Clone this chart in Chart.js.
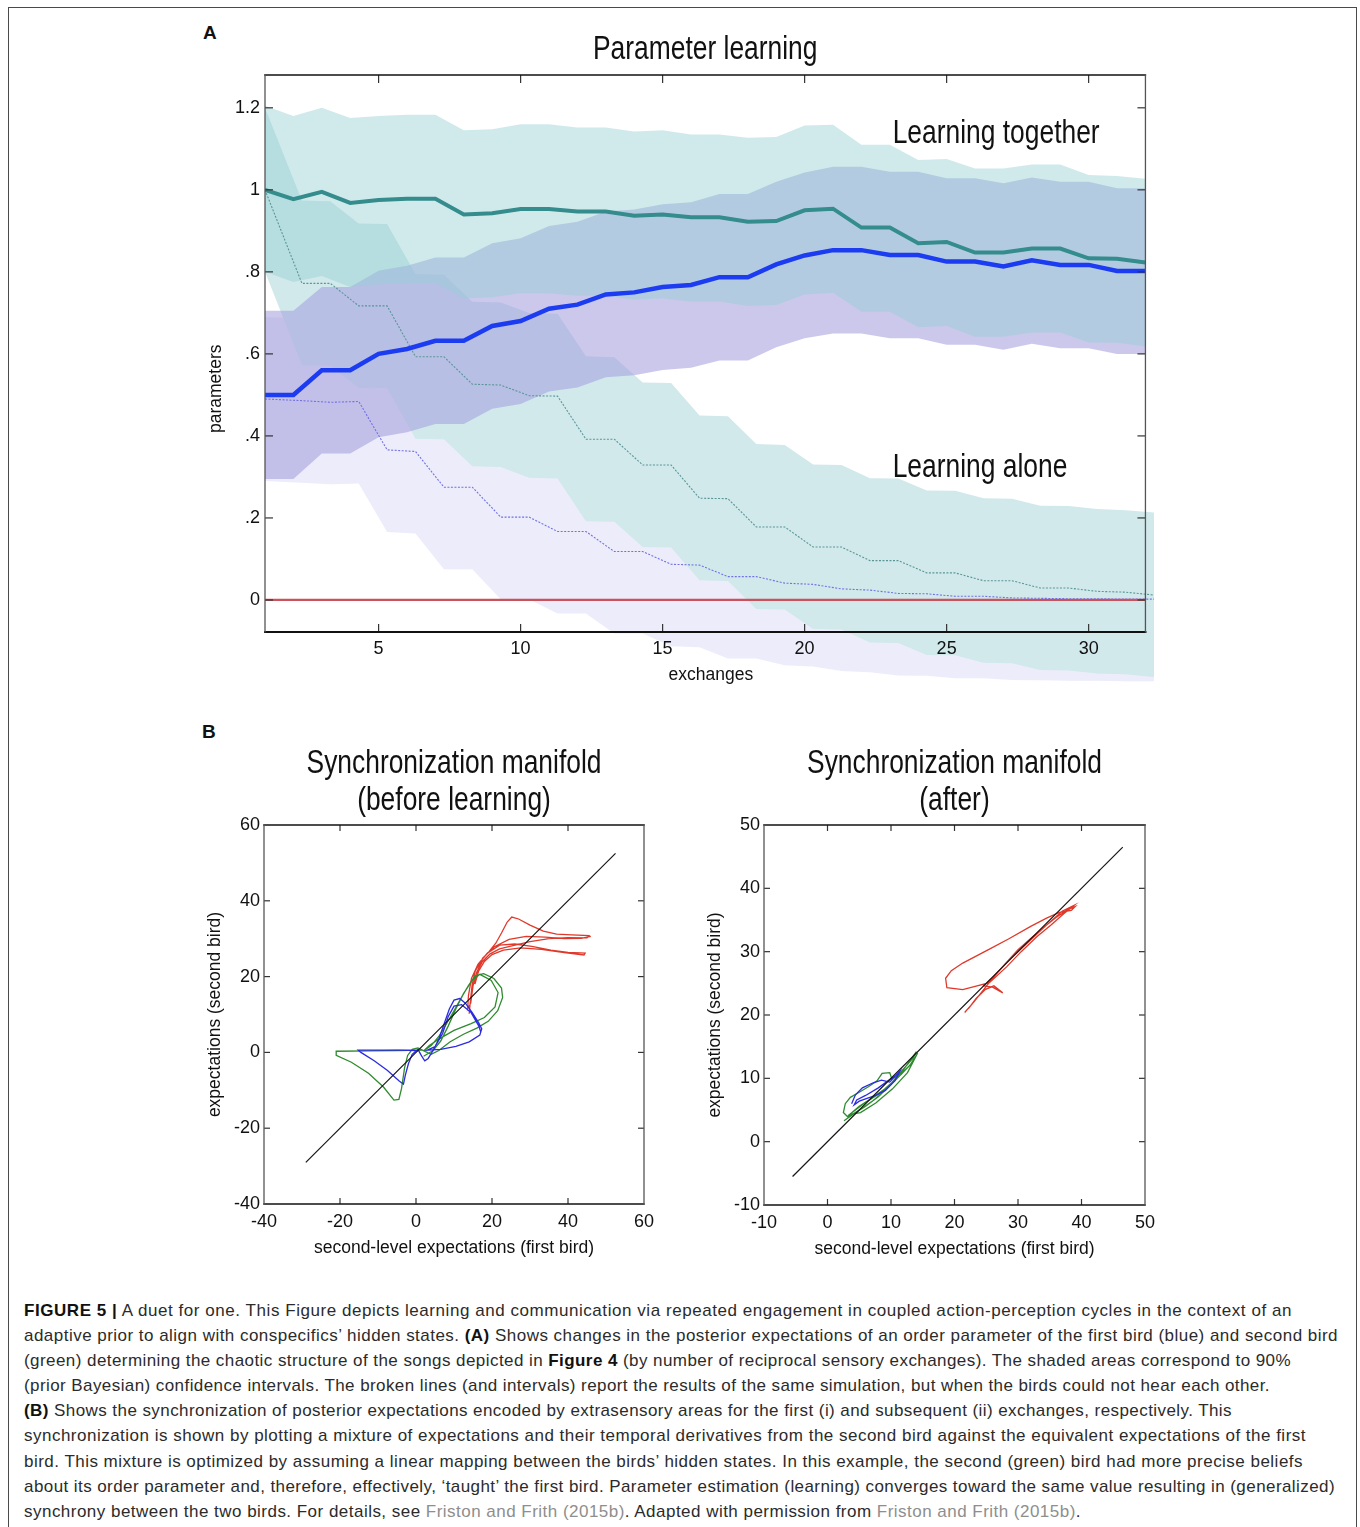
<!DOCTYPE html>
<html lang="en">
<head>
<meta charset="utf-8">
<title>Figure 5 — A duet for one</title>
<script src="https://cdn.jsdelivr.net/npm/chart.js@4.4.1/dist/chart.umd.min.js"></script>
<style>
  html, body { margin: 0; padding: 0; background: #fff; }
  body { position: relative; width: 1360px; height: 1527px; overflow: hidden; }
  .frame { position: absolute; left: 8px; top: 7px; width: 1349px; height: 1560px; border: 1px solid #4a4a4a; box-sizing: border-box; }
  .tag { position: absolute; font: bold 19px 'Liberation Sans', Arial, sans-serif; color: #111; }
  .panel { position: absolute; }
  .caption { position: absolute; left: 24px; top: 1298px; font: 17px/25.1px 'Liberation Sans', Arial, sans-serif; color: #2b2b2b; white-space: nowrap; }
  .caption .ln { display: block; width: max-content; }
  .caption b { color: #111; }
  .caption .ref { color: #8e8e8e; }
</style>
</head>
<body>
<div class="frame"></div>
<div class="tag" style="left:203px; top:22px">A</div>
<div class="tag" style="left:202px; top:721px">B</div>

<div class="panel" style="left:180px; top:20px; width:1050px; height:720px"><canvas id="chart-a"></canvas></div>
<div class="panel" style="left:180px; top:730px; width:548px; height:540px"><canvas id="chart-b1"></canvas></div>
<div class="panel" style="left:680px; top:730px; width:550px; height:540px"><canvas id="chart-b2"></canvas></div>

<div class="caption">
  <span class="ln" data-w="1268"><b>FIGURE 5 |</b> A duet for one. This Figure depicts learning and communication via repeated engagement in coupled action-perception cycles in the context of an</span>
  <span class="ln" data-w="1314">adaptive prior to align with conspecifics’ hidden states. <b>(A)</b> Shows changes in the posterior expectations of an order parameter of the first bird (blue) and second bird</span>
  <span class="ln" data-w="1267">(green) determining the chaotic structure of the songs depicted in <b>Figure 4</b> (by number of reciprocal sensory exchanges). The shaded areas correspond to 90%</span>
  <span class="ln" data-w="1246">(prior Bayesian) confidence intervals. The broken lines (and intervals) report the results of the same simulation, but when the birds could not hear each other.</span>
  <span class="ln" data-w="1208"><b>(B)</b> Shows the synchronization of posterior expectations encoded by extrasensory areas for the first (i) and subsequent (ii) exchanges, respectively. This</span>
  <span class="ln" data-w="1282">synchronization is shown by plotting a mixture of expectations and their temporal derivatives from the second bird against the equivalent expectations of the first</span>
  <span class="ln" data-w="1279">bird. This mixture is optimized by assuming a linear mapping between the birds’ hidden states. In this example, the second (green) bird had more precise beliefs</span>
  <span class="ln" data-w="1311">about its order parameter and, therefore, effectively, ‘taught’ the first bird. Parameter estimation (learning) converges toward the same value resulting in (generalized)</span>
  <span class="ln" data-w="1057">synchrony between the two birds. For details, see <span class="ref">Friston and Frith (2015b)</span>. Adapted with permission from <span class="ref">Friston and Frith (2015b)</span>.</span>
</div>

<script>
// =====================================================
// DATA — panel A (parameter learning)
// =====================================================
const exchanges = [1, 2, 3, 4, 5, 6, 7, 8, 9, 10, 11, 12, 13, 14, 15, 16,
  17, 18, 19, 20, 21, 22, 23, 24, 25, 26, 27, 28, 29, 30, 31, 32];
// the "alone" runs are plotted slightly offset from the integer exchanges
const exchangesAlone = [1, 2.3, 3.3, 4.3, 5.3, 6.3, 7.3, 8.3, 9.3, 10.3, 11.3, 12.3, 13.3, 14.3, 15.3, 16.3,
  17.3, 18.3, 19.3, 20.3, 21.3, 22.3, 23.3, 24.3, 25.3, 26.3, 27.3, 28.3, 29.3, 30.3, 31.3, 32.3];

// learning together — second bird (green)
const greenTogether   = [1.000, 0.977, 0.995, 0.968, 0.975, 0.978, 0.978, 0.940, 0.943, 0.953, 0.953, 0.947, 0.947, 0.937, 0.940, 0.933,
  0.933, 0.922, 0.924, 0.950, 0.954, 0.908, 0.908, 0.870, 0.873, 0.847, 0.847, 0.857, 0.857, 0.833, 0.832, 0.823];
const greenTogetherHi = [1.205, 1.180, 1.200, 1.175, 1.180, 1.183, 1.183, 1.145, 1.148, 1.160, 1.160, 1.152, 1.152, 1.142, 1.145, 1.135,
  1.135, 1.127, 1.129, 1.157, 1.159, 1.110, 1.110, 1.073, 1.075, 1.052, 1.052, 1.062, 1.062, 1.036, 1.034, 1.027];
const greenTogetherLo = [0.800, 0.775, 0.790, 0.763, 0.770, 0.773, 0.773, 0.735, 0.738, 0.748, 0.748, 0.742, 0.742, 0.732, 0.735, 0.728,
  0.728, 0.717, 0.719, 0.745, 0.749, 0.703, 0.703, 0.665, 0.668, 0.642, 0.642, 0.652, 0.652, 0.628, 0.627, 0.618];

// learning together — first bird (blue)
const blueTogether   = [0.500, 0.500, 0.560, 0.560, 0.600, 0.612, 0.632, 0.632, 0.668, 0.680, 0.710, 0.720, 0.745, 0.750, 0.763, 0.768,
  0.787, 0.787, 0.818, 0.840, 0.853, 0.853, 0.841, 0.841, 0.825, 0.825, 0.813, 0.828, 0.817, 0.817, 0.802, 0.802];
const blueTogetherHi = [0.705, 0.705, 0.763, 0.763, 0.803, 0.815, 0.835, 0.835, 0.870, 0.882, 0.912, 0.922, 0.947, 0.952, 0.965, 0.970,
  0.990, 0.990, 1.020, 1.042, 1.056, 1.056, 1.044, 1.044, 1.028, 1.028, 1.016, 1.030, 1.020, 1.020, 1.004, 1.004];
const blueTogetherLo = [0.295, 0.295, 0.357, 0.357, 0.397, 0.409, 0.429, 0.429, 0.466, 0.478, 0.508, 0.518, 0.543, 0.548, 0.561, 0.566,
  0.584, 0.584, 0.616, 0.638, 0.650, 0.650, 0.638, 0.638, 0.622, 0.622, 0.610, 0.625, 0.614, 0.614, 0.600, 0.600];

// learning alone — second bird (green, broken line)
const greenAlone   = [1.000, 0.772, 0.772, 0.717, 0.717, 0.593, 0.593, 0.526, 0.524, 0.498, 0.497, 0.392, 0.392, 0.329, 0.329, 0.248,
  0.247, 0.178, 0.178, 0.129, 0.129, 0.096, 0.096, 0.066, 0.066, 0.047, 0.047, 0.029, 0.029, 0.021, 0.019, 0.012];
const greenAloneHi = [1.200, 0.974, 0.972, 0.918, 0.917, 0.795, 0.793, 0.727, 0.725, 0.700, 0.698, 0.594, 0.592, 0.530, 0.529, 0.450,
  0.448, 0.380, 0.378, 0.330, 0.329, 0.297, 0.296, 0.267, 0.266, 0.248, 0.247, 0.230, 0.229, 0.222, 0.219, 0.213];
const greenAloneLo = [0.800, 0.572, 0.571, 0.517, 0.516, 0.393, 0.392, 0.326, 0.324, 0.298, 0.296, 0.192, 0.191, 0.129, 0.128, 0.048,
  0.046, -0.022, -0.023, -0.071, -0.072, -0.104, -0.105, -0.134, -0.135, -0.153, -0.154, -0.171, -0.172, -0.179, -0.181, -0.188];

// learning alone — first bird (blue, broken line)
const blueAlone   = [0.490, 0.486, 0.482, 0.484, 0.366, 0.362, 0.275, 0.275, 0.202, 0.202, 0.167, 0.167, 0.118, 0.118, 0.087, 0.085,
  0.057, 0.057, 0.041, 0.038, 0.027, 0.024, 0.016, 0.015, 0.009, 0.009, 0.005, 0.004, 0.003, 0.003, 0.002, 0.002];
const blueAloneHi = [0.690, 0.686, 0.682, 0.684, 0.566, 0.562, 0.475, 0.475, 0.402, 0.402, 0.367, 0.367, 0.318, 0.318, 0.287, 0.285,
  0.257, 0.257, 0.241, 0.238, 0.227, 0.224, 0.216, 0.215, 0.209, 0.209, 0.205, 0.204, 0.203, 0.203, 0.202, 0.202];
const blueAloneLo = [0.290, 0.286, 0.282, 0.284, 0.166, 0.162, 0.075, 0.075, 0.002, 0.002, -0.033, -0.033, -0.082, -0.082, -0.113, -0.115,
  -0.143, -0.143, -0.159, -0.162, -0.173, -0.176, -0.184, -0.185, -0.191, -0.191, -0.195, -0.196, -0.197, -0.197, -0.198, -0.198];

const zeroLineX = [1, 32];
const zeroLineY = [0, 0];

const paramTicks = [0, 0.2, 0.4, 0.6, 0.8, 1, 1.2];
const exchangeTicks = [5, 10, 15, 20, 25, 30];

// =====================================================
// DATA — panel B (synchronization manifolds), [first bird, second bird]
// =====================================================
const diagonalBefore = [[-29, -29], [52.5, 52.5]];
const redBefore = [
  [14.0, 10.2], [14.3, 13.5], [14.8, 18.0], [15.6, 21.5], [17.2, 24.3], [19.2, 26.6], [21.0, 28.8], [22.5, 31.5],
  [24.0, 34.4], [25.2, 35.7], [27.0, 35.2], [30.0, 33.6], [33.5, 32.0], [37.0, 31.2], [41.0, 31.0], [45.5, 30.8],
  [45.0, 30.2], [40.0, 30.3], [35.0, 30.0], [30.0, 29.2], [25.5, 28.2], [22.0, 27.3], [19.5, 26.0], [17.5, 24.0],
  [16.0, 21.2], [15.0, 17.5], [14.4, 13.0], [13.6, 11.5], [13.8, 15.0], [14.6, 19.5], [16.3, 23.2], [18.8, 26.2],
  [22.0, 28.3], [26.0, 28.6], [30.5, 28.0], [35.5, 27.0], [40.0, 26.4], [44.5, 26.2], [44.2, 25.7], [39.0, 26.3],
  [33.0, 27.2], [27.5, 27.6], [23.0, 27.0], [20.0, 25.8], [18.0, 24.0], [16.5, 21.5], [15.5, 18.0], [15.8, 20.5],
  [17.5, 24.8], [20.5, 27.8], [24.5, 29.8], [29.0, 30.6], [34.0, 30.4], [39.0, 30.0], [43.5, 30.1], [46.0, 30.6],
];
const greenBefore = [
  [1.5, 0.6], [-5.0, 0.5], [-12.0, 0.4], [-21.0, 0.3], [-21.0, -0.8], [-17.0, -2.6], [-12.5, -5.5], [-8.5, -9.2],
  [-5.8, -12.6], [-4.5, -12.4], [-3.8, -9.5], [-3.0, -4.0], [-2.2, -0.8], [-1.0, 0.8], [0.5, 1.2], [2.5, 0.2],
  [4.0, -0.5], [6.0, 0.5], [9.0, 2.8], [12.5, 4.8], [16.0, 6.4], [19.0, 8.2], [21.5, 11.0], [22.8, 14.5],
  [22.5, 17.0], [20.5, 19.5], [17.8, 20.8], [15.6, 20.3], [13.8, 17.6], [12.0, 14.6], [10.0, 11.0], [8.0, 7.5],
  [6.0, 4.2], [4.0, 1.8], [2.0, 0.4], [3.5, 1.8], [6.0, 3.5], [10.0, 5.8], [14.5, 7.6], [18.0, 9.2],
  [20.8, 12.0], [21.6, 15.8], [19.8, 19.0], [16.8, 20.6], [14.8, 19.0], [12.5, 15.5], [10.5, 11.5], [8.5, 7.0],
  [6.5, 3.0], [4.5, 0.5], [2.0, -1.0],
];
const blueBefore = [
  [0.5, 0.5], [-5.0, 0.6], [-10.0, 0.6], [-15.2, 0.6], [-14.5, 0.0], [-11.0, -2.2], [-7.5, -4.8], [-4.5, -7.5],
  [-3.3, -8.4], [-2.8, -6.0], [-2.0, -3.0], [-1.0, -0.5], [0.5, 0.8], [1.5, -1.0], [2.3, -2.2], [3.2, -1.6],
  [4.5, 0.5], [6.0, 3.5], [7.5, 7.8], [8.8, 11.5], [10.0, 13.8], [11.5, 14.2], [13.0, 13.0], [14.8, 10.5],
  [16.5, 7.8], [17.3, 6.2], [16.8, 4.6], [14.0, 2.8], [10.5, 1.6], [6.5, 0.8], [3.0, 0.6], [5.0, 1.5],
  [7.0, 5.0], [8.5, 9.5], [10.0, 12.2], [12.0, 12.6], [14.5, 10.5], [16.5, 7.0], [17.0, 5.5],
];

const diagonalAfter = [[-5.5, -5.5], [46.5, 46.5]];
const redAfter = [
  [21.6, 20.4], [23.0, 22.0], [24.5, 23.9], [26.0, 25.8], [28.0, 28.1], [30.0, 30.3], [32.0, 32.1], [34.0, 33.8],
  [36.0, 35.4], [37.8, 36.6], [39.0, 37.1], [38.4, 36.5], [36.5, 36.2], [34.5, 35.3], [32.0, 34.0], [28.5, 32.0],
  [25.5, 30.4], [21.3, 28.2], [19.5, 27.0], [18.6, 25.8], [18.8, 24.3], [21.3, 24.0], [25.5, 25.1], [28.2, 27.6],
  [30.5, 30.0], [33.0, 32.4], [35.2, 34.2], [37.2, 36.0], [38.8, 37.3], [37.0, 36.4], [34.5, 34.2], [31.5, 31.4],
  [28.5, 28.6], [26.0, 25.9], [24.6, 24.6], [26.0, 24.4], [27.6, 23.5], [26.2, 24.6], [24.8, 24.0], [23.4, 22.6],
  [22.2, 21.0],
];
const greenAfter = [
  [2.6, 3.3], [4.0, 4.3], [6.0, 5.6], [8.0, 7.1], [10.0, 9.0], [12.0, 11.4], [14.0, 14.2], [13.4, 13.1],
  [11.2, 10.6], [9.2, 8.2], [7.2, 6.5], [5.2, 5.1], [3.2, 3.9], [2.5, 4.6], [2.8, 6.0], [3.6, 7.0],
  [5.0, 7.8], [6.5, 8.7], [7.8, 9.6], [8.6, 10.8], [9.8, 10.9], [10.1, 10.0], [11.6, 10.6], [12.6, 11.7],
  [11.0, 10.1], [9.0, 8.3], [7.0, 6.9], [5.0, 5.6], [3.5, 4.3], [5.2, 4.6], [7.6, 6.1], [10.2, 8.3],
  [12.6, 10.9], [14.2, 14.0], [13.0, 12.1], [10.6, 9.6], [8.0, 7.5], [5.6, 5.9], [3.2, 4.1],
];
const blueAfter = [
  [3.8, 6.0], [4.4, 7.4], [5.5, 8.5], [7.2, 9.3], [8.5, 9.7], [9.8, 9.4], [10.8, 10.5], [11.4, 11.1],
  [10.6, 9.6], [9.1, 8.1], [7.6, 7.3], [6.1, 6.8], [5.0, 6.4], [4.2, 5.8], [4.6, 6.6], [6.0, 7.3],
  [8.0, 8.5], [9.8, 9.8], [11.0, 10.6],
];

const ticksBefore = [-40, -20, 0, 20, 40, 60];
const ticksAfter = [-10, 0, 10, 20, 30, 40, 50];

// =====================================================
// SHARED HELPERS
// =====================================================
const SANS = "'Liberation Sans', Arial, sans-serif";
Chart.defaults.font.family = SANS;
Chart.defaults.color = '#111';

const pontos = (xs, ys) => xs.map((x, i) => ({ x, y: ys[i] }));
const pares = (list) => list.map(([x, y]) => ({ x, y }));

function bandDatasets(label, xs, lo, hi, color, order) {
  return [
    { label: label + ' lo', data: pontos(xs, lo), borderWidth: 0, borderColor: 'transparent', pointRadius: 0, fill: false, order },
    { label: label + ' hi', data: pontos(xs, hi), borderWidth: 0, borderColor: 'transparent', pointRadius: 0, fill: '-1', backgroundColor: color, order: order - 1 },
  ];
}

function formatParam(v) {
  if (v === 0) return '0';
  if (v === 1) return '1';
  return String(v).replace(/^0\./, '.');
}

// condensed text (the figure uses a narrow Helvetica): squeeze horizontally
function condensedText(ctx, text, x, y, size, squeeze, align) {
  ctx.save();
  ctx.font = `${size}px ${SANS}`;
  ctx.fillStyle = '#111';
  ctx.textAlign = align;
  ctx.textBaseline = 'alphabetic';
  ctx.translate(x, y);
  ctx.scale(squeeze, 1);
  ctx.fillText(text, 0, 0);
  ctx.restore();
}

// MATLAB-style box with inward ticks on all four sides
function boxPlugin(lim) {
  return {
    id: 'matlabBox',
    afterDatasetsDraw(chart) {
      const { ctx } = chart;
      const sx = chart.scales.x, sy = chart.scales.y;
      const L = sx.getPixelForValue(lim.x0), R = sx.getPixelForValue(lim.x1);
      const T = sy.getPixelForValue(lim.y1), B = sy.getPixelForValue(lim.y0);
      const seg = (x1, y1, x2, y2) => { ctx.beginPath(); ctx.moveTo(x1, y1); ctx.lineTo(x2, y2); ctx.stroke(); };
      ctx.save();
      ctx.strokeStyle = '#333';
      ctx.lineWidth = 1.2;
      sx.ticks.forEach(({ value }) => {
        if (value <= lim.x0 || value >= lim.x1) return;
        const p = sx.getPixelForValue(value);
        seg(p, B, p, B - lim.tick);
        seg(p, T, p, T + lim.tick);
      });
      sy.ticks.forEach(({ value }) => {
        if (value <= lim.y0 || value >= lim.y1) return;
        const p = sy.getPixelForValue(value);
        seg(L, p, L + lim.tick, p);
        seg(R, p, R - lim.tick, p);
      });
      ctx.lineCap = 'square';
      ctx.strokeStyle = '#111';
      ctx.lineWidth = 1.4; seg(L, T, R, T);
      ctx.lineWidth = lim.bottomWidth || 1.4; seg(L, B, R, B);
      ctx.strokeStyle = '#555';
      ctx.lineWidth = 1.3; seg(L, T, L, B); seg(R, T, R, B);
      ctx.restore();
    },
  };
}

// chart title centred over the box, baselines measured from the box top
function titlePlugin(lines, box, opts) {
  return {
    id: 'boxTitle',
    afterDraw(chart) {
      const sx = chart.scales.x, sy = chart.scales.y;
      const cx = (sx.getPixelForValue(box.x0) + sx.getPixelForValue(box.x1)) / 2;
      const top = sy.getPixelForValue(box.y1);
      lines.forEach((t, i) => condensedText(chart.ctx, t, cx, top - opts.rise + i * opts.gap, opts.size, opts.squeeze, 'center'));
    },
  };
}

function notesPlugin(notes, opts) {
  return {
    id: 'notes',
    afterDatasetsDraw(chart) {
      notes.forEach((n) => condensedText(chart.ctx, n.text,
        chart.scales.x.getPixelForValue(n.x), chart.scales.y.getPixelForValue(n.y), opts.size, opts.squeeze, 'left'));
    },
  };
}

// =====================================================
// PANEL A — Parameter learning
// =====================================================
function renderParameterLearning() {
  const ctx = document.getElementById('chart-a');
  if (!ctx) return;

  const datasets = [
    ...bandDatasets('blue alone', exchangesAlone, blueAloneLo, blueAloneHi, 'rgba(180, 180, 235, 0.25)', 90),
    ...bandDatasets('green alone', exchangesAlone, greenAloneLo, greenAloneHi, 'rgb(209, 233, 235)', 80),
    ...bandDatasets('blue together', exchanges, blueTogetherLo, blueTogetherHi, 'rgba(165, 160, 222, 0.58)', 70),
    ...bandDatasets('green together', exchanges, greenTogetherLo, greenTogetherHi, 'rgba(148, 207, 212, 0.44)', 60),
    { label: 'zero', data: pontos(zeroLineX, zeroLineY), borderColor: '#c9525c', borderWidth: 2.2, pointRadius: 0, order: 5 },
    { label: 'green alone', data: pontos(exchangesAlone, greenAlone), borderColor: '#5a9696', borderWidth: 1.1, borderDash: [2, 1.5], pointRadius: 0, order: 4 },
    { label: 'blue alone', data: pontos(exchangesAlone, blueAlone), borderColor: '#7272e4', borderWidth: 1.1, borderDash: [2, 1.5], pointRadius: 0, order: 3 },
    { label: 'green together', data: pontos(exchanges, greenTogether), borderColor: '#358c8c', borderWidth: 4, pointRadius: 0, order: 2 },
    { label: 'blue together', data: pontos(exchanges, blueTogether), borderColor: '#1c3cf2', borderWidth: 4.5, pointRadius: 0, order: 1 },
  ];

  const box = { x0: 1, x1: 32, y0: -0.078, y1: 1.28 };

  new Chart(ctx, {
    type: 'line',
    data: { datasets },
    options: {
      animation: false,
      responsive: true,
      maintainAspectRatio: false,
      layout: { padding: { left: 25, right: 73.2, top: 55, bottom: 37.5 } },
      plugins: {
        legend: { display: false },
        tooltip: { enabled: false },
        title: { display: false },
      },
      scales: {
        x: {
          type: 'linear',
          min: 1,
          max: 32.4,
          position: { y: box.y0 },
          afterBuildTicks: (s) => { s.ticks = exchangeTicks.map((value) => ({ value })); },
          afterFit: (s) => { s.height = 60; },
          grid: { display: false, drawTicks: false },
          border: { display: false },
          ticks: { z: 1, padding: 6, maxRotation: 0, font: { size: 18 }, color: '#111' },
          title: { display: true, text: 'exchanges', color: '#111', font: { size: 17.5 }, padding: { top: 0, bottom: 6 } },
        },
        y: {
          type: 'linear',
          min: -0.25,
          max: 1.28,
          afterBuildTicks: (s) => { s.ticks = paramTicks.map((value) => ({ value })); },
          afterFit: (s) => { s.width = 60; },
          grid: { display: false, drawTicks: false },
          border: { display: false },
          ticks: { padding: 5, font: { size: 18 }, color: '#111', callback: (v) => formatParam(v) },
          title: { display: true, text: 'parameters', color: '#111', font: { size: 17.5 }, padding: { top: 1, bottom: 0 } },
        },
      },
    },
    plugins: [
      boxPlugin({ ...box, tick: 8, bottomWidth: 2 }),
      titlePlugin(['Parameter learning'], box, { size: 33, squeeze: 0.8, rise: 16, gap: 0 }),
      notesPlugin([
        { text: 'Learning together', x: 23.1, y: 1.115 },
        { text: 'Learning alone', x: 23.1, y: 0.300 },
      ], { size: 33, squeeze: 0.8 }),
    ],
  });
}

// =====================================================
// PANEL B — Synchronization manifolds
// =====================================================
function renderManifold(id, titleLines, range, ticks, series, padRight, padBottom) {
  const ctx = document.getElementById(id);
  if (!ctx) return;

  const traj = (data, color, width, order) => ({
    data: pares(data), showLine: true, borderColor: color, borderWidth: width, pointRadius: 0, fill: false, order,
  });
  const box = { x0: range[0], x1: range[1], y0: range[0], y1: range[1] };

  new Chart(ctx, {
    type: 'scatter',
    data: {
      datasets: [
        traj(series.diagonal, '#151515', 1.2, 1),
        traj(series.red, '#e0392b', 1.3, 4),
        traj(series.green, '#2e8b2e', 1.3, 3),
        traj(series.blue, '#2b2be0', 1.3, 2),
      ],
    },
    options: {
      animation: false,
      responsive: true,
      maintainAspectRatio: false,
      layout: { padding: { left: 24, right: padRight, top: 95, bottom: padBottom } },
      plugins: {
        legend: { display: false },
        tooltip: { enabled: false },
        title: { display: false },
      },
      scales: {
        x: {
          type: 'linear',
          min: range[0],
          max: range[1],
          afterBuildTicks: (s) => { s.ticks = ticks.map((value) => ({ value })); },
          afterFit: (s) => { s.height = 60; },
          grid: { display: false, drawTicks: false },
          border: { display: false },
          ticks: { padding: 7, maxRotation: 0, font: { size: 18 }, color: '#111' },
          title: { display: true, text: 'second-level expectations (first bird)', color: '#111', font: { size: 17.5 }, padding: { top: 0, bottom: 5 } },
        },
        y: {
          type: 'linear',
          min: range[0],
          max: range[1],
          afterBuildTicks: (s) => { s.ticks = ticks.map((value) => ({ value })); },
          afterFit: (s) => { s.width = 60; },
          grid: { display: false, drawTicks: false },
          border: { display: false },
          ticks: { padding: 4, font: { size: 18 }, color: '#111' },
          title: { display: true, text: 'expectations (second bird)', color: '#111', font: { size: 17.5 }, padding: { top: 1, bottom: 0 } },
        },
      },
    },
    plugins: [
      boxPlugin({ ...box, tick: 6 }),
      titlePlugin(titleLines, box, { size: 33, squeeze: 0.8, rise: 52, gap: 37 }),
    ],
  });
}

// =====================================================
// CAPTION — stretch each line to the width it has in print
// =====================================================
function fitCaption() {
  document.querySelectorAll('.caption .ln').forEach((el) => {
    const target = Number(el.dataset.w);
    const width = el.getBoundingClientRect().width;
    const chars = el.textContent.length;
    el.style.letterSpacing = `${(target - width) / chars}px`;
  });
}

// =====================================================
// INIT
// =====================================================
document.addEventListener('DOMContentLoaded', () => {
  fitCaption();
  renderParameterLearning();
  renderManifold('chart-b1', ['Synchronization manifold', '(before learning)'], [-40, 60], ticksBefore,
    { diagonal: diagonalBefore, red: redBefore, green: greenBefore, blue: blueBefore }, 84, 6);
  renderManifold('chart-b2', ['Synchronization manifold', '(after)'], [-10, 50], ticksAfter,
    { diagonal: diagonalAfter, red: redAfter, green: greenAfter, blue: blueAfter }, 85, 5);
});
</script>
</body>
</html>
